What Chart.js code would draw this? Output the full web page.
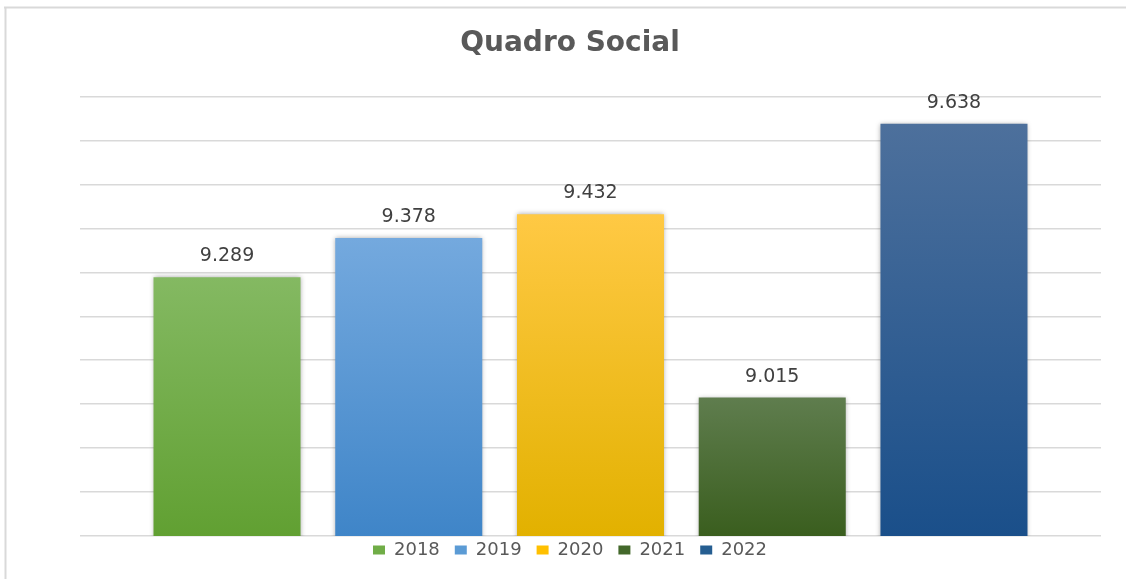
<!DOCTYPE html>
<html>
<head>
<meta charset="utf-8">
<script src="https://cdn.jsdelivr.net/npm/chart.js@4/dist/chart.umd.min.js"></script>
<style>
  html, body { margin: 0; padding: 0; background: #ffffff; overflow: hidden; }
  #wrap { position: relative; width: 1126px; height: 579px; }
</style>
</head>
<body>
<div id="wrap"><canvas id="c" width="1126" height="579"></canvas></div>
<script>
// ---- data ----
const categories = [''];
const seriesNames = ['2018', '2019', '2020', '2021', '2022'];
const seriesValues = [9289, 9378, 9432, 9015, 9638];
const axisMin = 8700;
const axisMax = 9700;
const axisStep = 100;
const chartTitle = 'Quadro Social';

// ---- styles ----
const gradTop = ['#84b962', '#74a9de', '#ffc944', '#5f7d4e', '#4d709c'];
const gradBottom = ['#61a032', '#3f85c8', '#e2b100', '#3a5e1e', '#1a4f8a'];
const legendColors = ['#70ad47', '#5b9bd5', '#ffc000', '#43682b', '#255e91'];

function fmt(v) {
  return String(v).replace(/\B(?=(\d{3})+(?!\d))/g, '.');
}

function makeGradient(i) {
  return function (ctx) {
    const chart = ctx.chart;
    const area = chart.chartArea;
    const ys = chart.scales && chart.scales.y;
    if (!area || !ys || ctx.raw === undefined) return gradTop[i];
    const top = ys.getPixelForValue(ctx.raw);
    const bottom = ys.getPixelForValue(axisMin);
    if (!isFinite(top) || !isFinite(bottom) || bottom <= top) return gradTop[i];
    const g = chart.ctx.createLinearGradient(0, top, 0, bottom);
    g.addColorStop(0, gradTop[i]);
    g.addColorStop(1, gradBottom[i]);
    return g;
  };
}

const datasets = seriesNames.map((name, i) => ({
  label: name,
  data: [seriesValues[i]],
  backgroundColor: makeGradient(i),
  borderWidth: 0,
  categoryPercentage: 0.89,
  barPercentage: 0.809
}));

const framePlugin = {
  id: 'frame',
  beforeDraw(chart) {
    const c = chart.ctx;
    c.save();
    c.fillStyle = '#ffffff';
    c.fillRect(0, 0, chart.width, chart.height);
    c.strokeStyle = '#d9d9d9';
    c.lineWidth = 2;
    c.beginPath();
    c.moveTo(4, 7.5);
    c.lineTo(chart.width, 7.5);
    c.moveTo(5.5, 6.5);
    c.lineTo(5.5, chart.height);
    c.stroke();
    c.restore();
  }
};

const shadowPlugin = {
  id: 'barShadow',
  beforeDatasetsDraw(chart) {
    const c = chart.ctx;
    c.save();
    c.shadowColor = 'rgba(0,0,0,0.35)';
    c.shadowBlur = 5;
    c.shadowOffsetX = 0;
    c.shadowOffsetY = 0;
  },
  afterDatasetsDraw(chart) {
    chart.ctx.restore();
  }
};

const labelPlugin = {
  id: 'valueLabels',
  afterDatasetsDraw(chart) {
    const c = chart.ctx;
    c.save();
    c.font = '19px "DejaVu Sans"';
    c.fillStyle = '#404040';
    c.textAlign = 'center';
    c.textBaseline = 'middle';
    chart.data.datasets.forEach((ds, i) => {
      const meta = chart.getDatasetMeta(i);
      meta.data.forEach((el, j) => {
        c.fillText(fmt(ds.data[j]), el.x, el.y - 21);
      });
    });
    c.restore();
  }
};

new Chart(document.getElementById('c'), {
  type: 'bar',
  data: { labels: categories, datasets: datasets },
  plugins: [framePlugin, shadowPlugin, labelPlugin],
  options: {
    responsive: false,
    animation: false,
    layout: { padding: { left: 20, right: 6, top: 10, bottom: 0 } },
    plugins: {
      title: {
        display: true,
        text: chartTitle,
        color: '#595959',
        font: { family: '"DejaVu Sans"', size: 28, weight: 'bold' },
        padding: { top: 17, bottom: 36 }
      },
      legend: {
        position: 'bottom',
        labels: {
          color: '#595959',
          font: { family: '"DejaVu Sans"', size: 18 },
          boxWidth: 12,
          boxHeight: 9,
          padding: 15,
          generateLabels(chart) {
            const items = Chart.defaults.plugins.legend.labels.generateLabels(chart);
            items.forEach((it, i) => {
              it.fillStyle = legendColors[i];
              it.strokeStyle = legendColors[i];
              it.lineWidth = 0;
            });
            return items;
          }
        }
      },
      tooltip: { enabled: false }
    },
    scales: {
      x: {
        display: true,
        grid: { display: false },
        border: { display: false },
        ticks: { display: false },
        afterFit(scale) { scale.height = -10; }
      },
      y: {
        min: axisMin,
        max: axisMax,
        ticks: { display: false, stepSize: axisStep },
        grid: { color: '#d9d9d9', lineWidth: 1.5, drawTicks: false },
        border: { display: false },
        afterFit(scale) { scale.width = 60; }
      },
      y2: {
        position: 'right',
        display: true,
        min: axisMin,
        max: axisMax,
        ticks: { display: false },
        grid: { display: false },
        border: { display: false },
        afterFit(scale) { scale.width = 19; }
      }
    }
  }
});
</script>
</body>
</html>
